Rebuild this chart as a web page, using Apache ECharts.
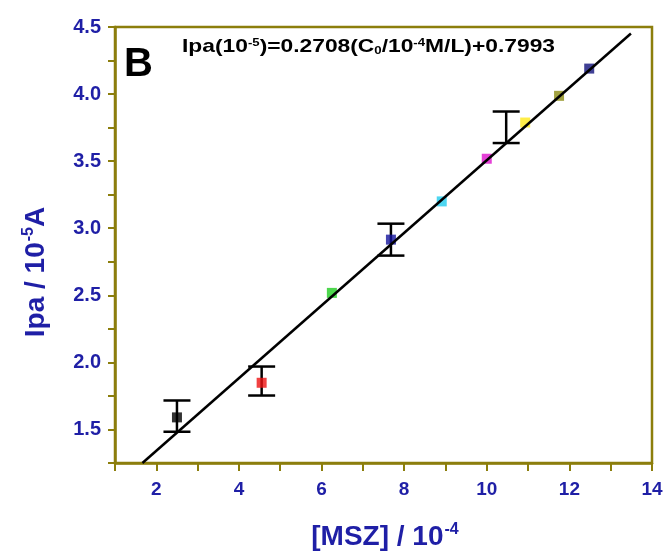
<!DOCTYPE html>
<html>
<head>
<meta charset="utf-8">
<script src="https://cdn.jsdelivr.net/npm/echarts@6/dist/echarts.min.js"></script>
<style>
  html, body { margin: 0; padding: 0; background: #fff; }
  #chart { width: 666px; height: 556px; }
</style>
</head>
<body>
<div id="chart"></div>
<script>
// concentration [MSZ] / 1e-4 and peak current Ipa / 1e-5 A
const concX = [2.5, 4.55, 6.25, 7.68, 8.91, 10.0, 10.93, 11.75, 12.48];
const currentY = [1.59, 1.848, 2.518, 2.915, 3.20, 3.518, 3.788, 3.987, 4.19];
const pointColors = ['#000000', '#ee1111', '#22cc22', '#14149c', '#22ccee', '#dd11cc', '#ffe81a', '#8a8a10', '#10107a'];

// error bars: x, low, high
const errX = [2.5, 4.55, 7.68, 10.47];
const errLow = [1.483, 1.753, 2.796, 3.635];
const errHigh = [1.716, 1.969, 3.034, 3.87];

// fitted line end points
const fitX = [1.664, 13.49];
const fitY = [1.25, 4.452];

const axisColor = '#8c7e0c';
const labelColor = '#1f1fa6';
const font = '"Liberation Sans", Arial, sans-serif';

const chart = echarts.init(document.getElementById('chart'));

function isHalf(v) {
  return Math.abs(v * 2 - Math.round(v * 2)) < 1e-6;
}

const titleRich = {
  a: { font: 'bold 28px ' + font, fill: labelColor, color: labelColor },
  s: { font: 'bold 16px ' + font, fill: labelColor, color: labelColor, verticalAlign: 'top', padding: [0, 0, 14, 1] }
};

chart.setOption({
  animation: false,
  grid: {
    left: 115, right: 14, top: 27, bottom: 93,
    show: true, borderColor: axisColor, borderWidth: 2.5
  },
  xAxis: {
    type: 'value', min: 1, max: 14, interval: 1,
    axisLine: { show: true, onZero: false, lineStyle: { color: axisColor, width: 2.5 } },
    axisTick: { show: true, length: 8, lineStyle: { color: axisColor, width: 2 } },
    splitLine: { show: false },
    axisLabel: {
      color: labelColor, fontFamily: font, fontWeight: 'bold', fontSize: 19, margin: 17,
      formatter: v => (v % 2 === 0 ? String(v) : '')
    }
  },
  yAxis: {
    type: 'value', min: 1.25, max: 4.5, interval: 0.25,
    axisLine: { show: true, onZero: false, lineStyle: { color: axisColor, width: 2.5 } },
    axisTick: { show: true, length: 7, lineStyle: { color: axisColor, width: 2 } },
    splitLine: { show: false },
    axisLabel: {
      color: labelColor, fontFamily: font, fontWeight: 'bold', fontSize: 20, margin: 14,
      formatter: v => (isHalf(v) ? v.toFixed(1) : '')
    }
  },
  graphic: [
    {
      type: 'text', left: 124, top: 45, z: 10,
      style: { text: 'B', font: 'bold 40px ' + font, fill: '#000' }
    },
    {
      type: 'text', x: 182, y: 37, scaleX: 1.2, z: 10,
      style: {
        text: '{a|Ipa(10}{s|-5}{a|)=0.2708(C}{b|0}{a|/10}{s|-4}{a|M/L)+0.7993}',
        rich: {
          a: { font: 'bold 19px ' + font, fill: '#000' },
          s: { font: 'bold 11px ' + font, fill: '#000', verticalAlign: 'top', padding: [0, 0, 8, 0] },
          b: { font: 'bold 11px ' + font, fill: '#000', verticalAlign: 'bottom', padding: [8, 0, 0, 0] }
        }
      }
    },
    {
      type: 'text', x: 36, y: 272, rotation: Math.PI / 2, z: 10,
      style: {
        text: '{a|Ipa / 10}{s|-5}{a|A}',
        align: 'center', verticalAlign: 'middle',
        rich: titleRich
      }
    },
    {
      type: 'text', x: 385, y: 537, z: 10,
      style: {
        text: '{a|[MSZ] / 10}{s|-4}',
        align: 'center', verticalAlign: 'middle',
        rich: titleRich
      }
    }
  ],
  series: [
    {
      type: 'custom', z: 2,
      data: errX.map((x, i) => [x, errLow[i], errHigh[i]]),
      renderItem: (params, api) => {
        const lo = api.coord([api.value(0), api.value(1)]);
        const hi = api.coord([api.value(0), api.value(2)]);
        const half = 13.5;
        const style = { stroke: '#000', lineWidth: 2.5 };
        return {
          type: 'group',
          children: [
            { type: 'line', shape: { x1: lo[0], y1: lo[1], x2: hi[0], y2: hi[1] }, style },
            { type: 'line', shape: { x1: lo[0] - half, y1: lo[1], x2: lo[0] + half, y2: lo[1] }, style },
            { type: 'line', shape: { x1: hi[0] - half, y1: hi[1], x2: hi[0] + half, y2: hi[1] }, style }
          ]
        };
      }
    },
    {
      type: 'scatter', z: 3, symbol: 'rect', symbolSize: 10,
      data: concX.map((x, i) => ({ value: [x, currentY[i]], itemStyle: { color: pointColors[i] } }))
    },
    {
      type: 'line', z: 4, symbol: 'none',
      data: fitX.map((x, i) => [x, fitY[i]]),
      lineStyle: { color: '#000', width: 2.5 }
    }
  ]
});
</script>
</body>
</html>
